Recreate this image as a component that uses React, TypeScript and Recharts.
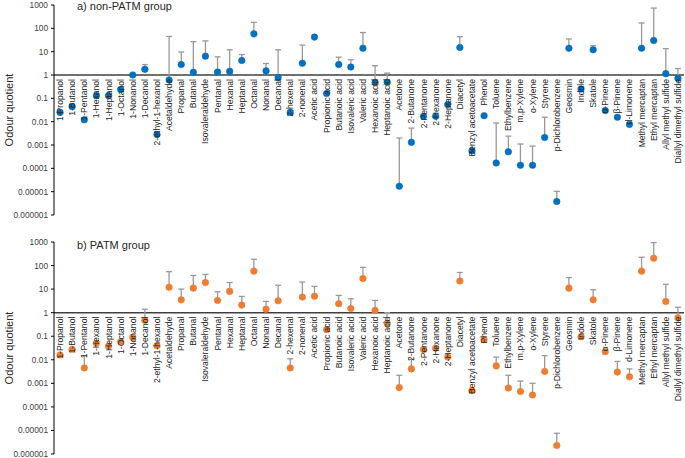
// 악취 화합물별 Odour quotient (non-PATM / PATM) 두 패널 로그 스케일 차트
import { ComposedChart, ErrorBar, LabelList, Line, ReferenceLine, XAxis, YAxis } from 'recharts'

const compounds = [
  '1-Propanol', '1-Butanol', '1-Pentanol', '1-Hexanol', '1-Heptanol', '1-Octanol', '1-Nonanol',
  '1-Decanol', '2-ethyl-1-hexanol', 'Acetaldehyde', 'Propanal', 'Butanal', 'Isovaleraldehyde',
  'Pentanal', 'Hexanal', 'Heptanal', 'Octanal', 'Nonanal', 'Decanal', '2-hexenal', '2-nonenal',
  'Acetic acid', 'Propionic acid', 'Butanoic acid', 'Isovaleric acid', 'Valeric acid',
  'Hexanoic acid', 'Heptanoic acid', 'Acetone', '2-Butanone', '2-Pentanone', '2-Hexanone',
  '2-Heptanone', 'Diacetyl', 'Benzyl acetoacetate', 'Phenol', 'Toluene', 'Ethylbenzene',
  'm,p-Xylene', 'o-Xylene', 'Styrene', 'p-Dichlorobenzene', 'Geosmin', 'Indole', 'Skatole',
  'α-Pinene', 'β-Pinene', 'd-Limonene', 'Methyl mercaptan', 'Ethyl mercaptan',
  'Allyl methyl sulfide', 'Diallyl dimethyl sulfide',
]

// a) non-PATM group: 평균값과 오차 막대 상단값 (null = 오차 막대 없음)
const nonPatmQuotient = [
  0.025, 0.044, 0.012, 0.13, 0.13, 0.24, 1.0, 1.75, 0.0028, 0.61, 2.8, 1.3, 6.4, 1.34, 1.43, 4.2,
  58, 1.5, 0.77, 0.025, 3.2, 42, 0.16, 2.8, 2.2, 14, 0.47, 0.49, 0.000017, 0.0013, 0.017, 0.017,
  0.054, 15, 0.00056, 0.018, 0.00017, 0.00051, 0.000135, 0.000135, 0.0021, 0.0000038, 14, 0.25,
  12, 0.03, 0.0155, 0.0076, 14, 30, 1.14, 0.72,
]
const nonPatmUpper = [
  null, null, null, null, null, null, null, 2.8, null, 45, 9.7, 27, 29, 6, 12, 7.5,
  180, 3.1, 12, null, 19, null, null, 5.8, 4.5, 66, 2.5, 1.2, 0.002, 0.0053, null, null,
  null, 44, null, null, 0.0087, 0.0024, 0.0011, 0.0009, 0.0155, 0.0000103, 35, null,
  18, null, null, null, 170, 740, 13.5, 1.9,
]

// b) PATM group
const patmQuotient = [
  0.016, 0.028, 0.0045, 0.051, 0.038, 0.058, 0.089, 0.47, 0.039, 12, 3.5, 11, 19, 3.3, 8, 2.1,
  58, 1.4, 3.2, 0.0045, 4.6, 5, 0.19, 2.4, 1.5, 28, 1.25, 0.35, 0.00066, 0.0041, 0.027, 0.031,
  0.013, 22, 0.00049, 0.071, 0.0055, 0.00063, 0.00045, 0.00032, 0.0032, 0.0000023, 11, 0.095,
  3.5, 0.022, 0.003, 0.0019, 58, 204, 3, 0.6,
]
const patmUpper = [
  null, null, 0.0145, null, null, null, null, 1.4, null, 55, 10, 38, 42, 7.7, 19, 4.9,
  185, 3, 14.6, 0.011, 20, 13, null, 5.4, 3.9, 84, 3.3, 1.0, 0.0022, 0.0104, null, null,
  null, 51, null, null, 0.013, 0.0022, 0.00125, 0.001, 0.015, 0.0000076, 31, null,
  9.4, null, 0.0085, 0.0041, 225, 940, 16, 1.7,
]

const yTicks = [0.000001, 0.00001, 0.0001, 0.001, 0.01, 0.1, 1, 10, 100, 1000]
const yTickLabels = ['0.000001', '0.00001', '0.0001', '0.001', '0.01', '0.1', '1', '10', '100', '1000']
const THRESHOLD = 1

// 로그축 보조 눈금 (2~9 × 10^n)
const minorTicks: number[] = []
for (let e = -6; e < 3; e++) {
  for (let m = 2; m <= 9; m++) minorTicks.push(m * Math.pow(10, e))
}

const FONT = '"Liberation Sans", Arial, sans-serif'
const WIDTH = 685

function buildRows(values: number[], uppers: (number | null)[]) {
  return compounds.map((name, i) => ({
    name,
    value: values[i],
    err: uppers[i] == null ? null : [0, (uppers[i] as number) - values[i]],
    threshold: THRESHOLD,
  }))
}

function CategoryLabel(props: any) {
  const x = props.x ?? props.viewBox?.x
  const y = props.y ?? props.viewBox?.y
  if (x == null || y == null) return null
  return (
    <text
      x={x}
      y={y}
      dx={-4}
      transform={`rotate(-90 ${x} ${y})`}
      textAnchor="end"
      dominantBaseline="central"
      fontSize={8.6}
      fontFamily={FONT}
      fill="#262626"
    >
      {props.value}
    </text>
  )
}

function AxisTitle(props: any) {
  const vb = props.viewBox
  if (!vb) return null
  const cx = vb.x + 9
  const cy = vb.y + vb.height / 2
  return (
    <text
      x={cx}
      y={cy}
      transform={`rotate(-90 ${cx} ${cy})`}
      textAnchor="middle"
      dominantBaseline="central"
      fontSize={11}
      fontFamily={FONT}
      fill="#262626"
    >
      Odour quotient
    </text>
  )
}

interface PanelProps {
  values: number[]
  uppers: (number | null)[]
  color: string
  height: number
  margin: { top: number; right: number; bottom: number; left: number }
}

function Panel({ values, uppers, color, height, margin }: PanelProps) {
  const rows = buildRows(values, uppers)
  return (
    <ComposedChart width={WIDTH} height={height} data={rows} margin={margin}>
      <XAxis dataKey="name" scale="band" hide />
      <YAxis
        scale="log"
        type="number"
        domain={[0.000001, 1000]}
        allowDataOverflow
        ticks={yTicks}
        interval={0}
        tickFormatter={(v: number) => yTickLabels[yTicks.indexOf(v)] ?? String(v)}
        width={54}
        tickSize={3}
        tickMargin={3}
        tick={{ fontSize: 8.3, fill: '#404040', fontFamily: FONT }}
        axisLine={{ stroke: '#000' }}
        tickLine={{ stroke: '#000' }}
        label={<AxisTitle />}
      />
      <YAxis
        yAxisId="minor"
        scale="log"
        type="number"
        domain={[0.000001, 1000]}
        allowDataOverflow
        ticks={minorTicks}
        interval={0}
        mirror
        width={0}
        tick={false}
        tickSize={3}
        axisLine={false}
        tickLine={{ stroke: '#000' }}
      />
      <ReferenceLine y={THRESHOLD} stroke="#404040" strokeWidth={1.5} />
      <Line
        dataKey="threshold"
        stroke="none"
        dot={false}
        activeDot={false}
        isAnimationActive={false}
      >
        <LabelList dataKey="name" content={<CategoryLabel />} />
      </Line>
      <Line
        dataKey="value"
        stroke="none"
        dot={{ r: 3.3, fill: color, stroke: color, strokeWidth: 0.5 }}
        activeDot={false}
        isAnimationActive={false}
      >
        <ErrorBar dataKey="err" direction="y" width={3} stroke="#999999" strokeWidth={1.3} />
      </Line>
    </ComposedChart>
  )
}

export default function App() {
  return (
    <div style={{ position: 'absolute', left: 0, top: 0, width: WIDTH, height: 458, background: '#fff', fontFamily: FONT }}>
      <style>{'.recharts-surface{overflow:visible}'}</style>
      <div style={{ position: 'absolute', left: 0, top: 0 }}>
        <Panel
          values={nonPatmQuotient}
          uppers={nonPatmUpper}
          color="#0070C0"
          height={240}
          margin={{ top: 5, right: 1, bottom: 25, left: 0 }}
        />
      </div>
      <div style={{ position: 'absolute', left: 0, top: 240 }}>
        <Panel
          values={patmQuotient}
          uppers={patmUpper}
          color="#ED7D31"
          height={218}
          margin={{ top: 2, right: 1, bottom: 4, left: 0 }}
        />
      </div>
      <div style={{ position: 'absolute', left: 77, top: 0, fontSize: 11, lineHeight: '12px', color: '#262626' }}>
        a) non-PATM group
      </div>
      <div style={{ position: 'absolute', left: 77, top: 239, fontSize: 11, lineHeight: '12px', color: '#262626' }}>
        b) PATM group
      </div>
    </div>
  )
}
